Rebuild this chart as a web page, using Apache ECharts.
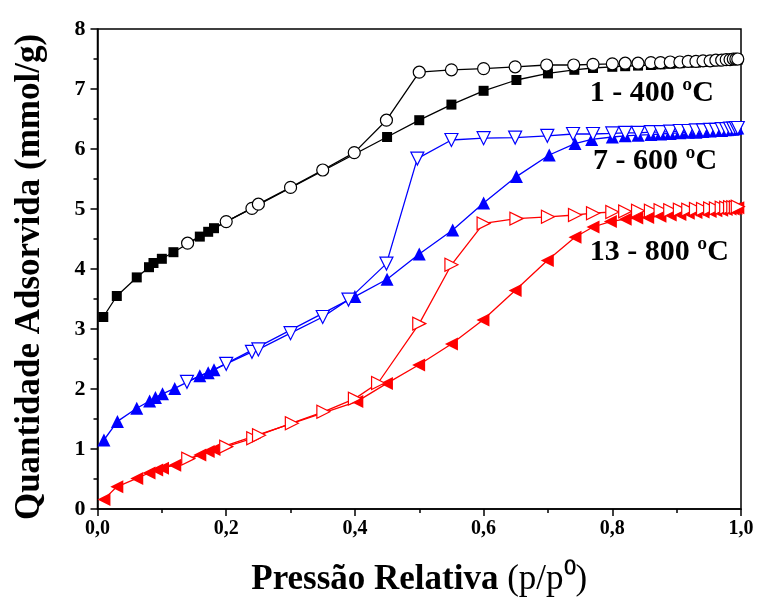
<!DOCTYPE html>
<html>
<head>
<meta charset="utf-8">
<script src="https://cdn.jsdelivr.net/npm/echarts@6/dist/echarts.min.js"></script>
<style>html,body{margin:0;padding:0;background:#fff}#c{width:758px;height:602px}</style>
</head>
<body>
<div id="c"></div>
<script>
// 1 - 400 ºC adsorption (filled squares) [p/p0, mmol/g]
var ads400 = [[0.009,3.20],[0.03,3.55],[0.061,3.86],[0.08,4.03],[0.087,4.10],[0.10,4.17],[0.118,4.28],[0.159,4.54],[0.172,4.62],[0.181,4.68],
  [0.45,6.20],[0.50,6.48],[0.55,6.74],[0.60,6.97],[0.651,7.15],[0.70,7.26],[0.741,7.32],[0.77,7.35],[0.80,7.37],[0.82,7.38],[0.84,7.39],
  [0.86,7.40],[0.875,7.41],[0.89,7.42],[0.905,7.43],[0.918,7.44],[0.93,7.44],[0.941,7.45],[0.952,7.46],[0.961,7.46],[0.97,7.47],
  [0.977,7.47],[0.983,7.48],[0.988,7.48],[0.992,7.49],[0.995,7.49]];
// 1 - 400 ºC desorption (open circles)
var des400 = [[0.14,4.43],[0.20,4.79],[0.24,5.01],[0.25,5.08],[0.30,5.36],[0.35,5.65],[0.399,5.94],[0.449,6.48],[0.50,7.28],[0.55,7.32],
  [0.60,7.34],[0.649,7.37],[0.698,7.40],[0.74,7.40],[0.77,7.41],[0.80,7.42],[0.82,7.43],[0.84,7.43],[0.86,7.44],[0.875,7.44],[0.89,7.45],
  [0.905,7.45],[0.918,7.46],[0.93,7.46],[0.941,7.47],[0.952,7.47],[0.961,7.48],[0.97,7.48],[0.977,7.49],[0.983,7.49],[0.988,7.50],
  [0.992,7.50],[0.995,7.50]];
// 7 - 600 ºC adsorption (filled up triangles)
var ads600 = [[0.01,1.15],[0.031,1.46],[0.061,1.68],[0.081,1.80],[0.09,1.86],[0.101,1.92],[0.12,2.01],[0.159,2.22],[0.172,2.27],[0.181,2.32],
  [0.40,3.54],[0.45,3.83],[0.50,4.25],[0.552,4.65],[0.60,5.10],[0.651,5.54],[0.702,5.90],[0.742,6.09],[0.768,6.16],[0.80,6.20],[0.82,6.22],
  [0.84,6.23],[0.86,6.24],[0.875,6.25],[0.89,6.26],[0.905,6.27],[0.918,6.28],[0.93,6.28],[0.941,6.29],[0.952,6.30],[0.961,6.31],
  [0.97,6.31],[0.977,6.32],[0.983,6.33],[0.988,6.33],[0.992,6.34],[0.995,6.35]];
// 7 - 600 ºC desorption (open down triangles)
var des600 = [[0.139,2.12],[0.20,2.42],[0.24,2.62],[0.25,2.66],[0.30,2.93],[0.35,3.20],[0.39,3.49],[0.449,4.09],[0.497,5.84],[0.55,6.15],
  [0.60,6.18],[0.649,6.19],[0.699,6.22],[0.739,6.25],[0.77,6.25],[0.80,6.26],[0.82,6.27],[0.84,6.27],[0.86,6.28],[0.875,6.28],[0.89,6.29],
  [0.905,6.30],[0.918,6.30],[0.93,6.31],[0.941,6.31],[0.952,6.32],[0.961,6.32],[0.97,6.33],[0.977,6.33],[0.983,6.34],[0.988,6.34],
  [0.992,6.35],[0.995,6.35]];
// 13 - 800 ºC adsorption (filled left triangles)
var ads800 = [[0.01,0.16],[0.03,0.37],[0.061,0.51],[0.08,0.60],[0.092,0.65],[0.101,0.68],[0.12,0.73],[0.159,0.90],[0.172,0.96],[0.181,0.99],
  [0.403,1.79],[0.449,2.09],[0.499,2.40],[0.55,2.75],[0.599,3.15],[0.649,3.64],[0.699,4.14],[0.742,4.53],[0.77,4.70],[0.797,4.79],
  [0.82,4.83],[0.838,4.85],[0.855,4.86],[0.874,4.88],[0.89,4.90],[0.905,4.91],[0.918,4.93],[0.93,4.94],[0.941,4.95],[0.952,4.96],
  [0.961,4.97],[0.97,4.98],[0.977,4.99],[0.983,5.00],[0.988,5.00],[0.992,5.01],[0.995,5.02]];
// 13 - 800 ºC desorption (open right triangles)
var des800 = [[0.141,0.84],[0.20,1.04],[0.242,1.18],[0.251,1.23],[0.302,1.43],[0.351,1.62],[0.40,1.84],[0.436,2.10],[0.50,3.09],[0.55,4.07],
  [0.60,4.76],[0.651,4.84],[0.70,4.87],[0.742,4.90],[0.77,4.93],[0.80,4.95],[0.82,4.96],[0.84,4.97],[0.86,4.97],[0.875,4.98],[0.89,4.98],
  [0.905,4.99],[0.918,4.99],[0.93,5.00],[0.941,5.00],[0.952,5.01],[0.961,5.01],[0.97,5.02],[0.977,5.02],[0.983,5.03],[0.988,5.03],
  [0.992,5.03],[0.995,5.04]];

var sampleLabels = ['1 - 400 ºC', '7 - 600 ºC', '13 - 800 ºC'];
var labelAnchors = [[0.765, 6.93], [0.770, 5.80], [0.765, 4.28]];

var FONT = 'Liberation Serif';
function mk(name, data, color, symbol, size, rot, open) {
  return {
    name: name, type: 'line', data: data, symbol: symbol, symbolSize: size, symbolRotate: rot,
    showAllSymbol: true, animation: false,
    lineStyle: { color: color, width: 1.3 },
    itemStyle: { color: open ? '#ffffff' : color, borderColor: color, borderWidth: open ? 1.2 : 0 },
    z: open ? 3 : 2
  };
}

var chart = echarts.init(document.getElementById('c'));
chart.setOption({
  backgroundColor: '#ffffff',
  animation: false,
  grid: { left: 97.5, right: 17, top: 29, bottom: 93, show: true, borderColor: '#000', borderWidth: 1.5, backgroundColor: 'transparent' },
  xAxis: {
    type: 'value', min: 0, max: 1, interval: 0.2,
    name: 'Pressão Relativa {r|(p/p⁰)}', nameLocation: 'middle', nameGap: 53,
    nameTextStyle: { fontFamily: FONT, fontWeight: 'bold', fontSize: 35, color: '#000',
      rich: { r: { fontFamily: FONT, fontWeight: 'normal', fontSize: 35, color: '#000' } } },
    axisLine: { lineStyle: { color: '#000', width: 1.5 } },
    axisTick: { inside: false, length: 7, lineStyle: { color: '#000', width: 1.5 } },
    minorTick: { show: true, splitNumber: 2, length: 4, lineStyle: { color: '#000', width: 1.5 } },
    splitLine: { show: false },
    axisLabel: { fontFamily: FONT, fontWeight: 'bold', fontSize: 20, color: '#000', margin: 10,
      formatter: function (v) { return v.toFixed(1).replace('.', ','); } }
  },
  yAxis: {
    type: 'value', min: 0, max: 8, interval: 1,
    name: 'Quantidade Adsorvida (mmol/g)', nameLocation: 'middle', nameGap: 50,
    nameTextStyle: { fontFamily: FONT, fontWeight: 'bold', fontSize: 35, color: '#000', padding: [0, 16, 0, 0] },
    axisLine: { lineStyle: { color: '#000', width: 1.5 } },
    axisTick: { inside: false, length: 7, lineStyle: { color: '#000', width: 1.5 } },
    minorTick: { show: true, splitNumber: 2, length: 4, lineStyle: { color: '#000', width: 1.5 } },
    splitLine: { show: false },
    axisLabel: { fontFamily: FONT, fontWeight: 'bold', fontSize: 22, color: '#000', margin: 12 }
  },
  series: [
    mk('ads400', ads400, '#000000', 'rect', 10, 0, false),
    mk('des400', des400, '#000000', 'circle', 12, 0, true),
    mk('ads600', ads600, '#0000ff', 'triangle', 13, 0, false),
    mk('des600', des600, '#0000ff', 'triangle', 13, 180, true),
    mk('ads800', ads800, '#ff0000', 'triangle', 13, 90, false),
    mk('des800', des800, '#ff0000', 'triangle', 13, -90, true)
  ]
});

var g = [];
for (var i = 0; i < sampleLabels.length; i++) {
  var p = chart.convertToPixel({ gridIndex: 0 }, labelAnchors[i]);
  g.push({ type: 'text', x: p[0], y: p[1], z: 10,
    style: { text: sampleLabels[i], font: 'bold 30px "' + FONT + '"', fill: '#000', textVerticalAlign: 'middle', verticalAlign: 'middle' } });
}
chart.setOption({ graphic: g });
</script>
</body>
</html>
